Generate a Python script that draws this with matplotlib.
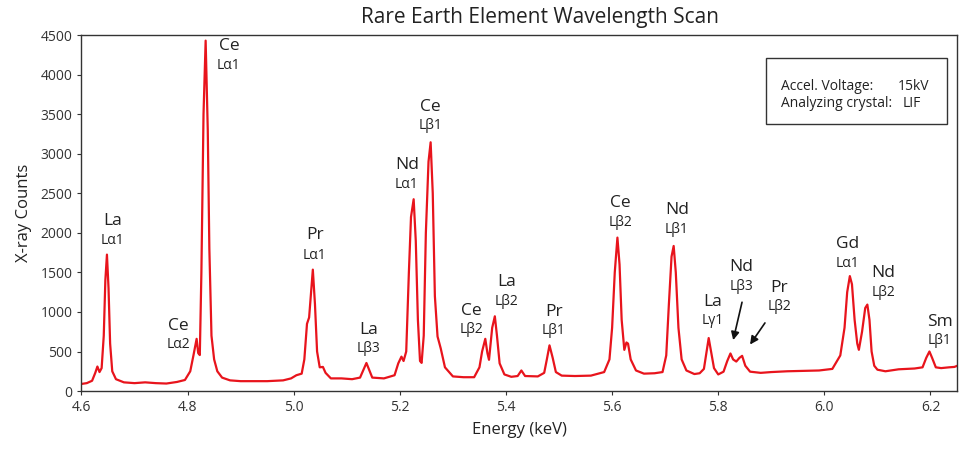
import matplotlib
matplotlib.use("Agg")
import matplotlib.pyplot as plt
from matplotlib.patches import Rectangle

plt.rcParams['font.family'] = ['Open Sans', 'DejaVu Sans']

# spectrum (energy keV, counts)
energy = [4.600, 4.610, 4.620, 4.626, 4.630, 4.634, 4.638, 4.642, 4.645, 4.648,
          4.651, 4.654, 4.658, 4.665, 4.680, 4.700, 4.720, 4.740, 4.760, 4.780,
          4.795, 4.805, 4.811, 4.817, 4.820, 4.823, 4.826, 4.830, 4.834, 4.838,
          4.841, 4.845, 4.850, 4.856, 4.865, 4.880, 4.900, 4.950, 4.980, 4.995,
          5.005, 5.015, 5.020, 5.025, 5.029, 5.036, 5.040, 5.044, 5.049, 5.055,
          5.060, 5.070, 5.090, 5.110, 5.125, 5.132, 5.137, 5.142, 5.148, 5.170,
          5.190, 5.197, 5.203, 5.207, 5.212, 5.217, 5.221, 5.226, 5.230, 5.234,
          5.238, 5.241, 5.245, 5.249, 5.254, 5.258, 5.262, 5.266, 5.271, 5.277,
          5.285, 5.300, 5.320, 5.340, 5.350, 5.355, 5.361, 5.365, 5.368, 5.374,
          5.379, 5.383, 5.388, 5.397, 5.410, 5.422, 5.429, 5.436, 5.460, 5.472,
          5.477, 5.482, 5.488, 5.494, 5.505, 5.530, 5.560, 5.585, 5.595, 5.600,
          5.605, 5.610, 5.614, 5.618, 5.623, 5.627, 5.630, 5.635, 5.645, 5.660,
          5.680, 5.695, 5.702, 5.707, 5.712, 5.716, 5.720, 5.725, 5.731, 5.740,
          5.755, 5.765, 5.773, 5.778, 5.782, 5.787, 5.792, 5.800, 5.810, 5.817,
          5.823, 5.828, 5.834, 5.840, 5.845, 5.851, 5.860, 5.880, 5.900, 5.930,
          5.960, 5.990, 6.015, 6.030, 6.038, 6.043, 6.048, 6.052, 6.057, 6.062,
          6.065, 6.071, 6.077, 6.081, 6.085, 6.089, 6.094, 6.100, 6.115, 6.140,
          6.170, 6.185, 6.192, 6.198, 6.203, 6.210, 6.220, 6.235, 6.245, 6.250]
counts = [90, 100, 130, 230, 310, 240, 290, 700, 1400, 1725,
          1300, 600, 250, 150, 110, 100, 110, 100, 95, 115,
          140, 250, 450, 660, 480, 455, 1500, 3500, 4430, 3300,
          1800, 700, 400, 250, 170, 135, 125, 125, 135, 160,
          200, 220, 400, 850, 930, 1535, 1100, 500, 300, 305,
          230, 160, 160, 150, 170, 280, 355, 270, 170, 160,
          200, 350, 435, 380, 500, 1500, 2200, 2425, 1900, 900,
          380, 356, 700, 2000, 2900, 3145, 2500, 1200, 690, 540,
          300, 185, 175, 175, 300, 500, 660, 480, 395, 800,
          945, 700, 350, 210, 180, 190, 260, 190, 185, 230,
          400, 578, 420, 240, 195, 190, 195, 240, 400, 800,
          1500, 1940, 1600, 900, 521, 614, 600, 400, 260, 220,
          225, 240, 450, 1100, 1700, 1834, 1500, 800, 400, 260,
          215, 225, 280, 500, 670, 480, 290, 210, 245, 380,
          475, 400, 373, 420, 445, 320, 245, 230, 240, 250,
          255, 260, 280, 450, 800, 1250, 1453, 1350, 900, 600,
          521, 750, 1050, 1093, 900, 500, 320, 270, 250, 275,
          285, 300, 420, 500, 420, 300, 290, 300, 305, 318]

# peak labels: element, line, x (keV), y of element text, y of line text
elements = ['La', 'Ce', 'Ce', 'Pr', 'La', 'Nd', 'Ce', 'Ce', 'La', 'Pr',
            'Ce', 'Nd', 'La', 'Nd', 'Pr', 'Gd', 'Nd', 'Sm']
lines = ['Lα1', 'Lα1', 'Lα2', 'Lα1', 'Lβ3', 'Lα1', 'Lβ1', 'Lβ2', 'Lβ2', 'Lβ1',
         'Lβ2', 'Lβ1', 'Lγ1', 'Lβ3', 'Lβ2', 'Lα1', 'Lβ2', 'Lβ1']
label_x = [4.659, 4.878, 4.782, 5.040, 5.141, 5.213, 5.258, 5.335, 5.401, 5.490,
           5.616, 5.722, 5.790, 5.844, 5.915, 6.043, 6.111, 6.217]
label_y1 = [2148, 4360, 826, 1970, 775, 2860, 3597, 1017, 1373, 1004,
            2377, 2288, 1131, 1563, 1309, 1856, 1487, 877]
label_y2 = [1906, 4118, 585, 1716, 534, 2606, 3355, 775, 1131, 763,
            2135, 2046, 890, 1322, 1068, 1614, 1246, 636]

fig = plt.figure(figsize=(9.63, 4.5), dpi=100)
ax = fig.add_axes([0.0846, 0.131, 0.9092, 0.791])

ax.plot(energy, counts, color='#e8141c', lw=1.6)
ax.set_xlim(4.6, 6.25)
ax.set_ylim(0, 4500)
ax.set_xticks([4.6, 4.8, 5.0, 5.2, 5.4, 5.6, 5.8, 6.0, 6.2])
ax.set_xticklabels(['4.6', '4.8', '5.0', '5.2', '5.4', '5.6', '5.8', '6.0', '6.2'])
ax.set_yticks(range(0, 4501, 500))
ax.tick_params(labelsize=10, colors='#333333', length=3, width=0.8)
for s in ax.spines.values():
    s.set_color('#333333')
    s.set_linewidth(1.0)

ax.set_xlabel('Energy (keV)', fontsize=12, color='#222222', labelpad=5)
ax.set_ylabel('X-ray Counts', fontsize=12, color='#222222', labelpad=6)
fig.text(0.561, 0.962, 'Rare Earth Element Wavelength Scan', ha='center', va='center',
         fontsize=15, color='#222222')

for el, ln, x, y1, y2 in zip(elements, lines, label_x, label_y1, label_y2):
    ax.text(x, y1, el, ha='center', va='center', fontsize=12.5, color='#222222')
    ax.text(x, y2, ln, ha='center', va='center', fontsize=10, color='#222222')

# arrows to the two small peaks
ax.annotate('', xy=(5.827, 610), xytext=(5.846, 1157),
            arrowprops=dict(arrowstyle='-|>', color='#111111', lw=1.2, mutation_scale=12))
ax.annotate('', xy=(5.857, 559), xytext=(5.891, 890),
            arrowprops=dict(arrowstyle='-|>', color='#111111', lw=1.2, mutation_scale=12))

# info box
fig.patches.append(Rectangle((766 / 963, 1 - 124 / 450), 181 / 963, 66 / 450,
                             transform=fig.transFigure, fill=False,
                             edgecolor='#333333', lw=1.0))
fig.text(781 / 963, 1 - 86 / 450, 'Accel. Voltage:', ha='left', va='center',
         fontsize=10, color='#222222')
fig.text(898 / 963, 1 - 86 / 450, '15kV', ha='left', va='center',
         fontsize=10, color='#222222')
fig.text(781 / 963, 1 - 104 / 450, 'Analyzing crystal:', ha='left', va='center',
         fontsize=10, color='#222222')
fig.text(903 / 963, 1 - 104 / 450, 'LIF', ha='left', va='center',
         fontsize=10, color='#222222')

fig.savefig('out.png', dpi=100)
